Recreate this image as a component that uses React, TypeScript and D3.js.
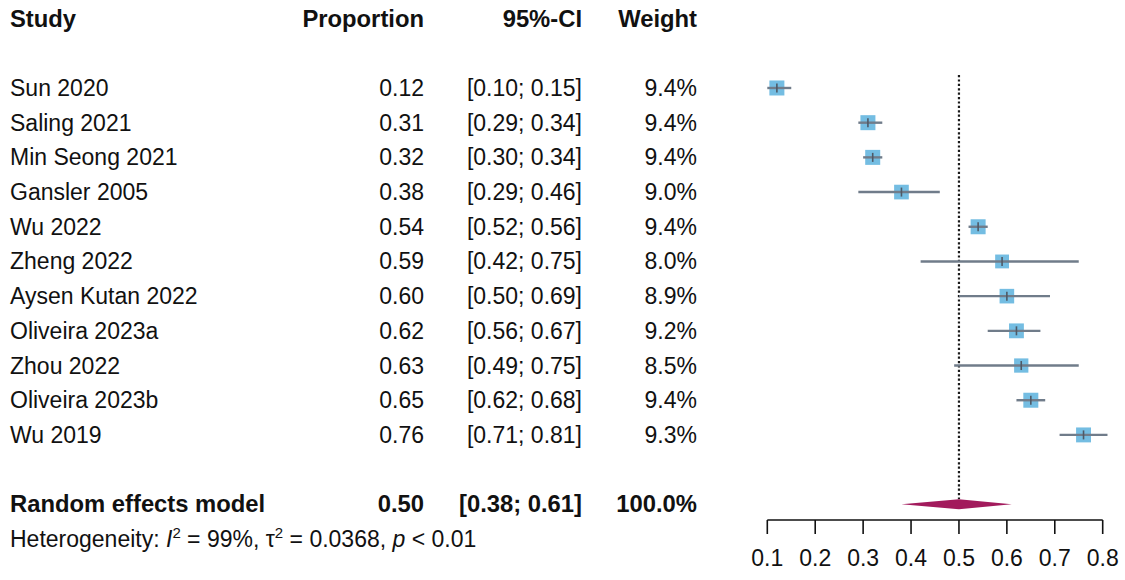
import React from "react";
import * as d3 from "d3";

const studies = [
  "Sun 2020",
  "Saling 2021",
  "Min Seong 2021",
  "Gansler 2005",
  "Wu 2022",
  "Zheng 2022",
  "Aysen Kutan 2022",
  "Oliveira 2023a",
  "Zhou 2022",
  "Oliveira 2023b",
  "Wu 2019",
];
const proportion = [0.12, 0.31, 0.32, 0.38, 0.54, 0.59, 0.6, 0.62, 0.63, 0.65, 0.76];
const lower = [0.1, 0.29, 0.3, 0.29, 0.52, 0.42, 0.5, 0.56, 0.49, 0.62, 0.71];
const upper = [0.15, 0.34, 0.34, 0.46, 0.56, 0.75, 0.69, 0.67, 0.75, 0.68, 0.81];
const weight = [9.4, 9.4, 9.4, 9.0, 9.4, 8.0, 8.9, 9.2, 8.5, 9.4, 9.3];

const pooledLabel = "Random effects model";
const pooled = 0.5;
const pooledLower = 0.38;
const pooledUpper = 0.61;
const pooledWeight = 100.0;

const headers = ["Study", "Proportion", "95%-CI", "Weight"];
const xTicks = [0.1, 0.2, 0.3, 0.4, 0.5, 0.6, 0.7, 0.8];
const tau2 = "0.0368";
const i2 = "99%";
const pText = "0.01";

const FONT = "'Liberation Sans', Arial, Helvetica, sans-serif";
const FS = 23;
const FSB = 23.8;

export default function App() {
  const x = d3.scaleLinear().domain([0.1, 0.8]).range([767.3, 1102.7]);
  const rowY = d3.scaleLinear().domain([0, 15]).range([18.6, 539]);
  const base = (i: number) => rowY(i) + 8;
  const colProp = 424;
  const colCI = 582;
  const colW = 697;
  const sideMax = 15;
  const side = (w: number) => sideMax * Math.sqrt(w / 9.4);
  const fmt2 = d3.format(".2f");
  const fmt1 = d3.format(".1f");
  const axisY = 520;
  const pooledRow = 14;
  const pyc = rowY(pooledRow);
  const dh = 5;
  const diamond = [
    [x(pooledLower), pyc],
    [x(pooled), pyc - dh],
    [x(pooledUpper), pyc],
    [x(pooled), pyc + dh],
  ]
    .map((p) => p.join(","))
    .join(" ");

  return (
    <svg
      width={1125}
      height={580}
      style={{ position: "absolute", left: 0, top: 0, background: "#fff" }}
      fontFamily={FONT}
      fontSize={FS}
    >
      {/* headers */}
      <g fontWeight="bold" fill="#111" fontSize={FSB}>
        <text x={10} y={base(0)}>{headers[0]}</text>
        <text x={colProp} y={base(0)} textAnchor="end">{headers[1]}</text>
        <text x={colCI} y={base(0)} textAnchor="end">{headers[2]}</text>
        <text x={colW} y={base(0)} textAnchor="end">{headers[3]}</text>
      </g>

      {/* study rows */}
      <g fill="#111">
        {studies.map((s, i) => (
          <g key={s}>
            <text x={10} y={base(i + 2)}>{s}</text>
            <text x={colProp} y={base(i + 2)} textAnchor="end">{fmt2(proportion[i])}</text>
            <text x={colCI} y={base(i + 2)} textAnchor="end">
              {`[${fmt2(lower[i])}; ${fmt2(upper[i])}]`}
            </text>
            <text x={colW} y={base(i + 2)} textAnchor="end">{`${fmt1(weight[i])}%`}</text>
          </g>
        ))}
      </g>

      {/* pooled row */}
      <g fontWeight="bold" fill="#111" fontSize={FSB}>
        <text x={10} y={base(pooledRow)}>{pooledLabel}</text>
        <text x={colProp} y={base(pooledRow)} textAnchor="end">{fmt2(pooled)}</text>
        <text x={colCI} y={base(pooledRow)} textAnchor="end">
          {`[${fmt2(pooledLower)}; ${fmt2(pooledUpper)}]`}
        </text>
        <text x={colW} y={base(pooledRow)} textAnchor="end">{`${fmt1(pooledWeight)}%`}</text>
      </g>

      {/* heterogeneity */}
      <text x={10} y={base(15)} fill="#111">
        <tspan>Heterogeneity: </tspan>
        <tspan fontStyle="italic">I</tspan>
        <tspan dy={-9} fontSize={15}>2</tspan>
        <tspan dy={9}>{` = ${i2}, τ`}</tspan>
        <tspan dy={-9} fontSize={15}>2</tspan>
        <tspan dy={9}>{` = ${tau2}, `}</tspan>
        <tspan fontStyle="italic">p</tspan>
        <tspan>{` < ${pText}`}</tspan>
      </text>

      {/* reference line at pooled estimate */}
      <line
        x1={x(pooled)}
        x2={x(pooled)}
        y1={75}
        y2={pyc - dh}
        stroke="#1a1a1a"
        strokeWidth={2.2}
        strokeDasharray="2.2,2.2"
      />

      {/* study markers */}
      {studies.map((s, i) => {
        const cy = rowY(i + 2);
        const sd = side(weight[i]);
        return (
          <g key={s}>
            <rect
              x={x(proportion[i]) - sd / 2}
              y={cy - sd / 2}
              width={sd}
              height={sd}
              fill="#74BDE2"
            />
            <line
              x1={x(lower[i])}
              x2={x(upper[i])}
              y1={cy}
              y2={cy}
              stroke="#707C8A"
              strokeWidth={2.4}
            />
            <line
              x1={x(proportion[i])}
              x2={x(proportion[i])}
              y1={cy - 4.5}
              y2={cy + 4.5}
              stroke="#4E5966"
              strokeWidth={1.6}
            />
          </g>
        );
      })}

      {/* diamond */}
      <polygon points={diamond} fill="#A21A5C" />

      {/* axis */}
      <g stroke="#111" strokeWidth={1.6}>
        <line x1={x(xTicks[0])} x2={x(xTicks[xTicks.length - 1])} y1={axisY} y2={axisY} />
        {xTicks.map((t) => (
          <line key={t} x1={x(t)} x2={x(t)} y1={axisY} y2={axisY + 14} />
        ))}
      </g>
      <g fill="#111">
        {xTicks.map((t) => (
          <text key={t} x={x(t)} y={566} textAnchor="middle">
            {fmt1(t)}
          </text>
        ))}
      </g>
    </svg>
  );
}
